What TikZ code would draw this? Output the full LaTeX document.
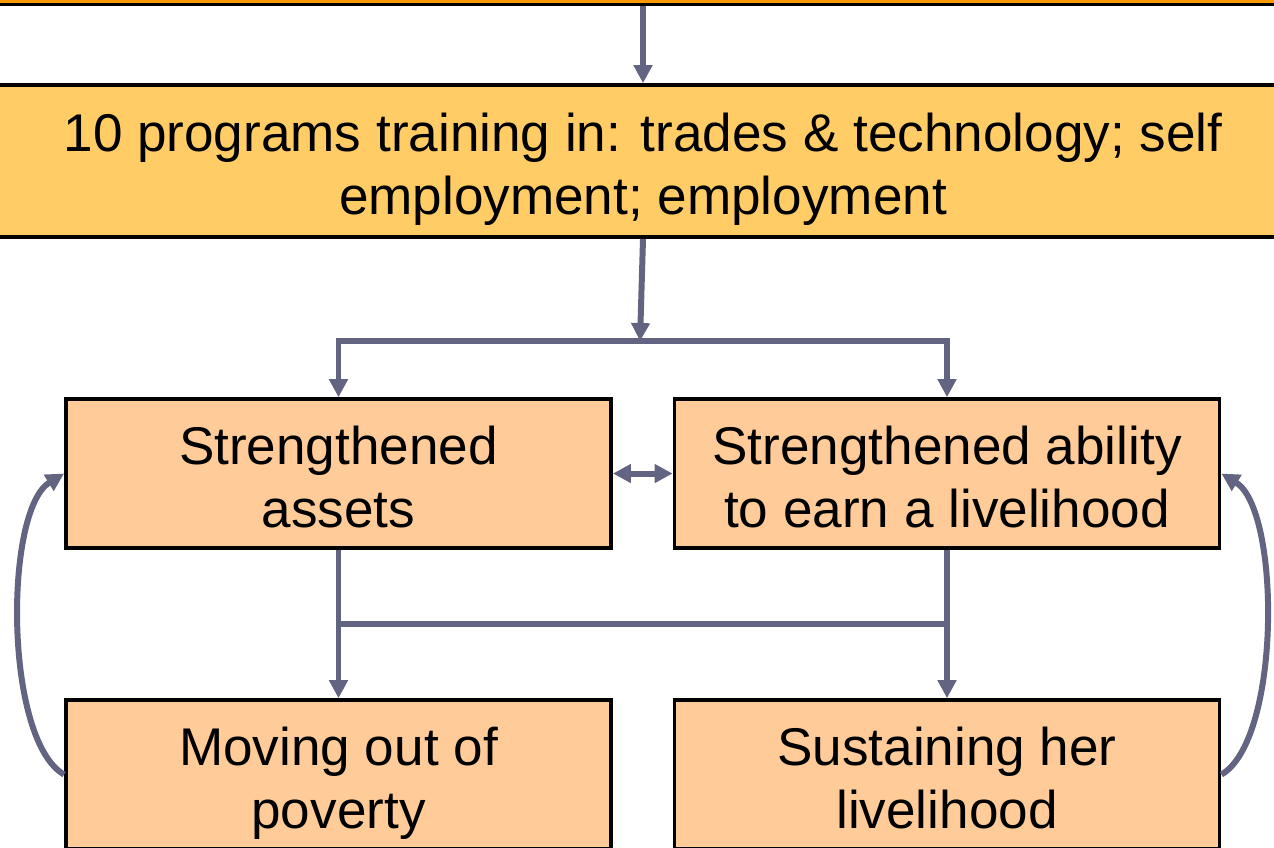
\documentclass[tikz,border=0pt]{standalone}
\usepackage{fontspec}
\setmainfont{Liberation Sans}
\usetikzlibrary{arrows.meta}

\definecolor{linkgray}{RGB}{99,99,130}
\definecolor{headorange}{RGB}{255,153,0}
\definecolor{progyellow}{RGB}{255,204,102}
\definecolor{boxpeach}{RGB}{255,204,153}

\tikzset{
  boxtext/.style={font=\fontsize{15.1}{17.9}\selectfont, align=center, inner sep=0pt,
    text height=30.5pt, text depth=0pt},
  outcome/.style={boxtext, draw=black, line width=1pt, fill=boxpeach,
    minimum width=5.45cm, minimum height=1.49cm},
  link/.style={draw=linkgray, line width=1.7pt},
  flow/.style={link, -{Triangle[length=0.18cm, width=0.18cm]}},
}

\begin{document}
\begin{tikzpicture}[x=0.01cm, y=-0.01cm]
    \useasboundingbox (0,0) rectangle (1274,847);

    % Banner and program box, both wider than the page
    \node[draw, fill=headorange, line width=1pt, minimum width=14cm, minimum height=1cm,
          anchor=south, inner sep=0pt] (banner) at (643,6) {};
    \node[boxtext, draw, fill=progyellow, line width=1pt, minimum width=14cm,
          minimum height=1.52cm] (progs) at (643,161)
          {10 programs training in: trades \& technology; self\\employment; employment};

    % Outcome boxes
    \node[outcome] (assets) at (338.5,473.5) {Strengthened\\assets};
    \node[outcome] (ability) at (947,473.5) {Strengthened ability\\to earn a livelihood};
    \node[outcome] (poverty) at (338.5,774.5) {Moving out of\\poverty};
    \node[outcome] (sustain) at (947,774.5) {Sustaining her\\livelihood};

    % Top-down flow
    \coordinate (split) at (640,341);
    \coordinate (merge) at (643,624);
    \draw[flow] (banner.south) -- (progs.north);
    \draw[flow] (progs.south) -- (split);
    \draw[flow] (split) -| (assets.north);
    \draw[flow] (split) -| (ability.north);
    \draw[link, {Triangle[length=0.18cm, width=0.18cm]}-{Triangle[length=0.18cm, width=0.18cm]}]
        (assets.east) -- (ability.west);
    \draw[flow] (assets.south) -- (poverty.north);
    \draw[flow] (ability.south) -- (sustain.north);
    \draw[link] (assets.south |- merge) -- (ability.south |- merge);

    % Feedback loops
    \draw[flow] (poverty.west) .. controls (4,740) and (4,510) .. (assets.west);
    \draw[flow] (sustain.east) .. controls (1281,740) and (1281,510) .. (ability.east);
\end{tikzpicture}
\end{document}
